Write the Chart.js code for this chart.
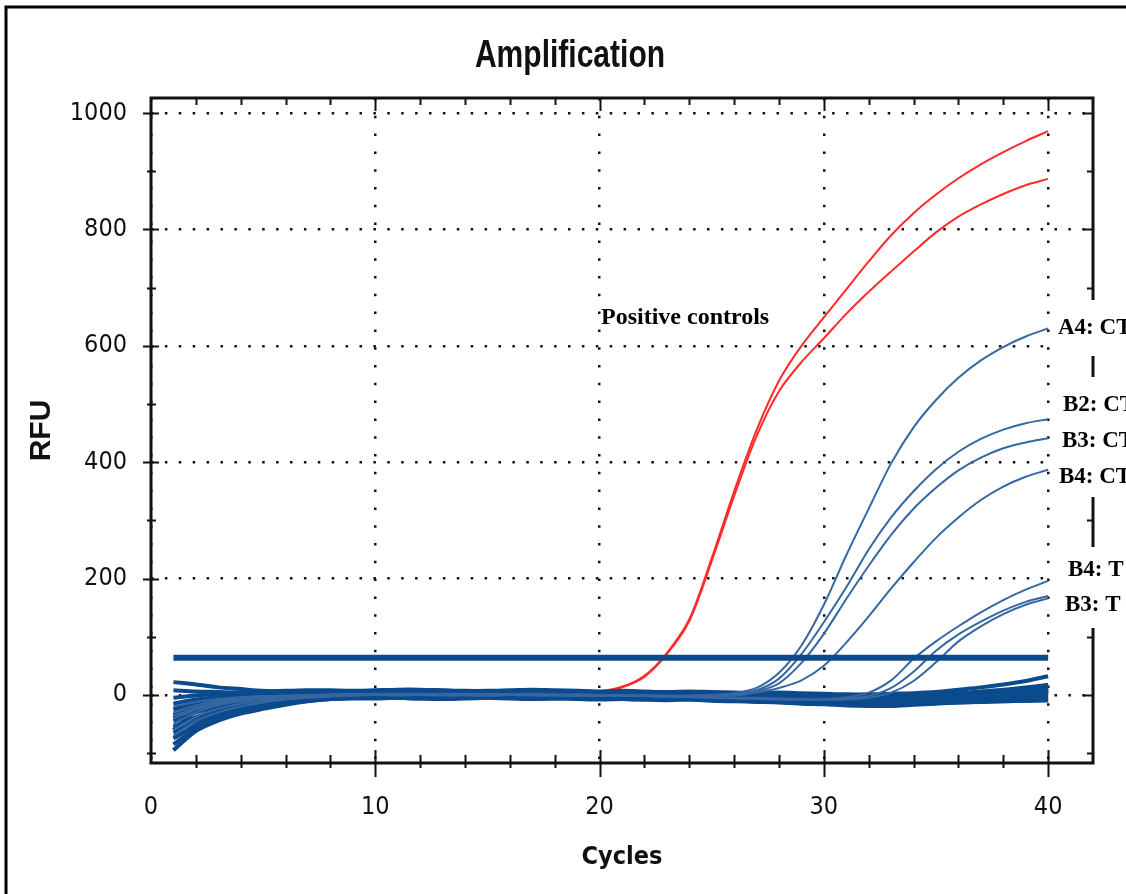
<!DOCTYPE html>
<html><head><meta charset="utf-8">
<script src="https://cdn.jsdelivr.net/npm/chart.js@4.4.0/dist/chart.umd.min.js"></script>
<style>
html,body{margin:0;padding:0;background:#fff;}
#wrap{position:relative;width:1126px;height:894px;overflow:hidden;}
canvas{display:block;}
</style></head><body>
<div id="wrap"><canvas id="c" width="1126" height="894"></canvas></div>
<script>
// ---------- data ----------
const cycles = [1,2,3,4,5,6,7,8,9,10,11,12,13,14,15,16,17,18,19,20,21,22,23,24,25,26,27,28,29,30,31,32,33,34,35,36,37,38,39,40];
const xTickLabels = [0,10,20,30,40];
const yTickLabels = [0,200,400,600,800,1000];
const xMinorTicks = [2,4,6,8,10,12,14,16,18,20,22,24,26,28,30,32,34,36,38,40];
const yMinorTicks = [-100,0,100,200,300,400,500,600,700,800,900,1000];
const threshold = 64;

// positive controls (red)
const posCtrl1 = [-30,-14,-5,-2,-1,0,1,0,1,2, 1,0,1,0,-1,-3,-2,0,2,6, 14,33,72,130,235,350,455,540,600,649, 697,745,790,828,860,888,912,933,952,969];
const posCtrl2 = [-24,-10,-3,-1,0,1,0,1,2,1, 0,-1,0,1,0,-2,-3,-1,1,5, 13,31,70,127,230,342,445,522,572,613, 655,693,728,762,795,822,843,861,876,887];

// amplified samples (blue)
const a4CT = [-50,-30,-18,-11,-7,-4,-2,-1,0,1, 0,1,2,1,0,1,0,-1,0,-1, -2,-1,-2,-1,0,3,12,38,85,155, 240,320,398,460,507,545,575,598,616,630];
const b2CT = [-70,-45,-30,-20,-13,-8,-5,-3,-1,0, 1,0,-1,0,1,0,1,0,-1,0, -1,-2,-1,-2,-1,1,8,28,70,125, 185,250,305,350,388,418,440,456,467,474];
const b3CT = [-40,-25,-15,-9,-5,-3,-1,0,1,2, 1,0,1,2,1,0,-1,0,1,0, -1,-2,-3,-2,-1,0,6,20,55,105, 165,222,275,320,356,386,408,424,434,441];
const b4CT = [-60,-38,-24,-15,-10,-6,-4,-2,-1,0, -1,0,1,0,-1,0,1,0,-1,-2, -1,-2,-3,-2,-3,-1,4,12,25,50, 90,135,183,228,270,305,335,358,375,387];
const b4T  = [-30,-18,-10,-6,-4,-2,-1,0,1,0, 1,2,1,0,-1,0,1,0,-1,-2, -1,-2,-3,-4,-5,-6,-7,-8,-8,-7, -4,4,25,62,92,118,142,163,181,196];
const b3T  = [-20,-12,-7,-4,-2,-1,0,1,2,1, 0,1,0,-1,0,1,2,1,0,-1, -2,-1,-2,-3,-4,-5,-6,-7,-8,-8, -6,-2,12,40,76,104,126,145,160,170];
const tExtra = [-36,-22,-13,-8,-5,-3,-2,-1,0,1, 2,1,0,1,2,1,0,-1,-2,-1, 0,-1,-2,-3,-4,-5,-5,-6,-7,-8, -8,-5,4,24,56,92,118,139,155,166];

// non-amplified baselines (blue)
const base1  = [22,18,13,10,7,5,4,3,3,4, 5,4,3,2,3,4,3,2,1,2, 1,0,-1,0,-1,-2,-1,-3,-4,-5, -6,-6,-5,-4,-3,-1,1,4,7,11];
const base2  = [8,6,5,4,4,4,5,5,6,5, 4,6,7,6,5,5,4,5,6,5, 4,3,2,3,2,1,0,0,-1,-2, -3,-3,-2,-1,1,3,6,9,13,17];
const base3  = [-15,-8,-4,-2,-1,0,1,0,1,2, 1,0,2,1,0,-1,0,1,0,-1, -2,-1,-2,-3,-4,-3,-5,-6,-8,-9, -10,-10,-9,-8,-6,-4,-2,0,2,4];
const base4  = [-25,-14,-8,-5,-4,-4,-3,-3,-2,-3, -4,-3,-2,-1,-2,-3,-4,-5,-4,-3, -4,-5,-6,-5,-6,-7,-8,-9,-10,-11, -13,-14,-15,-14,-12,-11,-9,-8,-6,-5];
const base5  = [-35,-22,-14,-9,-6,-4,-2,-1,0,1, 2,1,0,1,2,3,2,1,2,1, 0,1,0,-1,-2,-1,-2,-3,-4,-5, -6,-7,-6,-5,-4,-2,0,2,5,8];
const base6  = [-45,-30,-20,-14,-11,-9,-8,-7,-6,-6, -5,-6,-5,-4,-5,-6,-7,-6,-5,-6, -7,-8,-7,-8,-9,-10,-11,-12,-13,-15, -16,-17,-16,-15,-14,-13,-12,-11,-10,-9];
const base7  = [-55,-38,-26,-18,-13,-9,-6,-4,-3,-2, -1,0,1,0,-1,0,1,0,-1,0, 1,0,-1,-2,-1,-2,-3,-4,-5,-6, -8,-9,-9,-8,-6,-4,-1,2,5,9];
const base8  = [-65,-45,-32,-23,-16,-11,-8,-5,-3,-2, -1,0,1,2,1,0,1,2,1,0, -1,0,-1,-2,-3,-2,-4,-5,-6,-7, -8,-9,-8,-7,-5,-3,0,4,8,13];
const base9  = [-75,-52,-37,-27,-19,-13,-9,-6,-4,-2, -1,0,-1,0,1,0,-1,0,1,0, -1,-2,-1,-2,-3,-4,-3,-5,-6,-8, -9,-10,-10,-9,-7,-5,-3,-1,1,3];
const base10 = [-85,-58,-42,-30,-22,-15,-10,-7,-4,-2, -1,0,1,0,-1,-2,-1,0,1,0, -1,0,-2,-3,-2,-3,-4,-6,-7,-8, -9,-11,-11,-10,-8,-6,-3,0,3,7];
const base11 = [-95,-62,-44,-32,-24,-17,-11,-7,-5,-3, -2,-1,0,1,2,1,0,-1,0,1, 0,-1,-2,-1,-3,-4,-5,-5,-6,-7, -8,-8,-7,-6,-4,-1,2,6,11,17];
const base12 = [-5,-1,2,4,6,7,8,8,7,8, 9,9,8,7,7,8,9,8,7,6, 7,6,5,6,5,4,3,4,3,2, 1,1,2,3,5,9,13,18,24,32];
const base13 = [-40,-20,-10,-6,-4,-3,-2,-1,0,1, 2,3,2,1,2,3,4,3,2,1, 0,-1,0,-1,-2,-3,-4,-5,-6,-7, -7,-8,-8,-7,-6,-5,-4,-3,-2,-1];
const base14 = [-60,-28,-15,-10,-8,-7,-6,-6,-5,-4, -5,-6,-7,-6,-5,-4,-5,-6,-7,-8, -7,-8,-9,-8,-10,-11,-12,-13,-15,-16, -18,-19,-19,-17,-15,-13,-12,-11,-10,-9];

const baselines = [base1,base2,base3,base4,base5,base6,base7,base8,base9,base10,base11,base12,base13,base14];
const amplified = [a4CT,b2CT,b3CT,b4CT,b4T,b3T,tExtra];
const positives = [posCtrl1,posCtrl2];

const sideLabels = ['A4: CT','B2: CT','B3: CT','B4: CT','B4: T','B3: T'];

// ---------- styles ----------
const COND = '"DejaVu Sans Condensed","Liberation Sans Narrow","Arial Narrow",sans-serif';
const SANS = '"Liberation Sans",Arial,sans-serif';
const SERIF = '"Liberation Serif","Times New Roman",serif';
const RED = '#ff2a2a';
const NAVY = '#0b4a8c';
const STEEL = '#3567a2';

function series(vals, color, width, order) {
  return {
    data: cycles.map((c, i) => ({x: c, y: vals[i]})),
    borderColor: color, borderWidth: width, pointRadius: 0, fill: false,
    tension: 0.3, order: order
  };
}

const datasets = [];
datasets.push({
  data: [{x: cycles[0], y: threshold}, {x: cycles[cycles.length - 1], y: threshold}],
  borderColor: NAVY, borderWidth: 6, pointRadius: 0, fill: false, order: 1, tension: 0
});
amplified.forEach(v => datasets.push(series(v, STEEL, 2, 2)));
baselines.forEach(v => datasets.push(series(v, NAVY, 4, 3)));
positives.forEach(v => datasets.push(series(v, RED, 2, 4)));

function narrowText(ctx, text, x, y, font, sx) {
  ctx.save();
  ctx.font = font;
  ctx.translate(x, y);
  ctx.scale(sx, 1);
  ctx.fillText(text, 0, 0);
  ctx.restore();
}

const decor = {
  id: 'decor',
  beforeDraw(chart) {
    const ctx = chart.ctx;
    ctx.save();
    ctx.fillStyle = '#fff';
    ctx.fillRect(0, 0, chart.width, chart.height);
    ctx.restore();
  },
  afterDraw(chart) {
    const {ctx, chartArea: a, scales: {x, y}} = chart;
    ctx.save();
    // plot frame
    ctx.strokeStyle = '#111';
    ctx.lineWidth = 3;
    ctx.strokeRect(a.left, a.top, a.right - a.left, a.bottom - a.top);
    // tick marks
    ctx.lineWidth = 2;
    ctx.beginPath();
    xMinorTicks.forEach(v => {
      const px = Math.round(x.getPixelForValue(v)) + 0.5;
      const major = v % 10 === 0;
      ctx.moveTo(px, a.top); ctx.lineTo(px, a.top + (major ? 13 : 7));
      ctx.moveTo(px, a.bottom - (major ? 13 : 8)); ctx.lineTo(px, a.bottom + (major ? 14 : 5));
    });
    yMinorTicks.forEach(v => {
      const py = Math.round(y.getPixelForValue(v)) + 0.5;
      const major = v % 200 === 0;
      ctx.moveTo(a.left - (major ? 8 : 4), py); ctx.lineTo(a.left + (major ? 8 : 5), py);
      ctx.moveTo(a.right - (major ? 10 : 6), py); ctx.lineTo(a.right, py);
    });
    ctx.stroke();

    // title
    ctx.fillStyle = '#111';
    ctx.textAlign = 'center';
    ctx.textBaseline = 'middle';
    narrowText(ctx, 'Amplification', 570, 56, 'bold 39px ' + SANS, 0.77);

    // annotation
    ctx.fillStyle = '#000';
    ctx.font = 'bold 24px ' + SERIF;
    ctx.textAlign = 'left';
    ctx.fillText('Positive controls', 601, 318);

    // label boxes on the right
    ctx.fillStyle = '#fff';
    ctx.fillRect(1050, 300, 76, 56);
    ctx.fillRect(1052, 377, 74, 120);
    ctx.fillRect(1052, 547, 74, 81);
    ctx.fillStyle = '#000';
    ctx.font = 'bold 23px ' + SERIF;
    const lx = [1058, 1063, 1062, 1059, 1068, 1065];
    const ly = [328, 405, 441, 477, 570, 605];
    sideLabels.forEach((t, i) => ctx.fillText(t, lx[i], ly[i]));

    // outer border
    ctx.strokeStyle = '#000';
    ctx.lineWidth = 3;
    ctx.beginPath();
    ctx.moveTo(6, 894); ctx.lineTo(6, 7); ctx.lineTo(1126, 7);
    ctx.stroke();
    ctx.restore();
  }
};

new Chart(document.getElementById('c'), {
  type: 'line',
  data: {datasets},
  plugins: [decor],
  options: {
    responsive: false,
    animation: false,
    devicePixelRatio: 1,
    layout: {padding: {top: 98, right: 33, left: 0, bottom: 0}},
    plugins: {legend: {display: false}, tooltip: {enabled: false}, title: {display: false}},
    scales: {
      x: {
        type: 'linear', min: 0, max: 42,
        afterFit(s) { s.height = 131; },
        afterBuildTicks(s) { s.ticks = xTickLabels.map(v => ({value: v})); },
        ticks: {padding: 29, color: '#111', maxRotation: 0, autoSkip: false,
                callback: v => String(v),
                font: {family: COND, size: 25}},
        grid: {drawTicks: false, color: '#111', lineWidth: 2.5},
        border: {display: false, dash: [2.5, 15.3]},
        title: {display: true, text: 'Cycles', color: '#111',
                font: {family: COND, size: 25, weight: 'bold'}, padding: {top: 0, bottom: 22}}
      },
      y: {
        type: 'linear', min: -117, max: 1026,
        afterFit(s) { s.width = 151; },
        afterBuildTicks(s) { s.ticks = yTickLabels.map(v => ({value: v})); },
        ticks: {padding: 24, color: '#111', autoSkip: false,
                callback: v => String(v),
                font: {family: COND, size: 25}},
        grid: {drawTicks: false, color: '#111', lineWidth: 2.5},
        border: {display: false, dash: [2.5, 11.4]},
        title: {display: true, text: 'RFU', color: '#111',
                font: {family: SANS, size: 30, weight: 'bold'},
                padding: {top: 24, bottom: 0}}
      }
    }
  }
});
</script>
</body></html>
